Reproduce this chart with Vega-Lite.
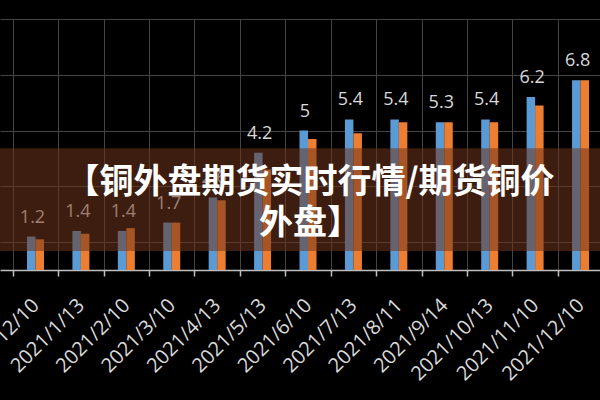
{
  "$schema": "https://vega.github.io/schema/vega-lite/v6.json",
  "width": 600,
  "height": 251,
  "autosize": {"type": "none"},
  "padding": {"left": 0, "right": 0, "top": 19, "bottom": 130},
  "background": "#000000",
  "config": {"view": {"stroke": null}, "font": "Open Sans"},
  "datasets": {
    "bars": [
      {"date": "2020/12/10", "series": "系列1", "value": 1.2},
      {"date": "2020/12/10", "series": "系列2", "value": 1.1},
      {"date": "2021/1/13", "series": "系列1", "value": 1.4},
      {"date": "2021/1/13", "series": "系列2", "value": 1.3},
      {"date": "2021/2/10", "series": "系列1", "value": 1.4},
      {"date": "2021/2/10", "series": "系列2", "value": 1.5},
      {"date": "2021/3/10", "series": "系列1", "value": 1.7},
      {"date": "2021/3/10", "series": "系列2", "value": 1.7},
      {"date": "2021/4/13", "series": "系列1", "value": 2.6},
      {"date": "2021/4/13", "series": "系列2", "value": 2.5},
      {"date": "2021/5/13", "series": "系列1", "value": 4.2},
      {"date": "2021/5/13", "series": "系列2", "value": 3.6},
      {"date": "2021/6/10", "series": "系列1", "value": 5},
      {"date": "2021/6/10", "series": "系列2", "value": 4.7},
      {"date": "2021/7/13", "series": "系列1", "value": 5.4},
      {"date": "2021/7/13", "series": "系列2", "value": 4.9},
      {"date": "2021/8/11", "series": "系列1", "value": 5.4},
      {"date": "2021/8/11", "series": "系列2", "value": 5.3},
      {"date": "2021/9/14", "series": "系列1", "value": 5.3},
      {"date": "2021/9/14", "series": "系列2", "value": 5.3},
      {"date": "2021/10/13", "series": "系列1", "value": 5.4},
      {"date": "2021/10/13", "series": "系列2", "value": 5.3},
      {"date": "2021/11/10", "series": "系列1", "value": 6.2},
      {"date": "2021/11/10", "series": "系列2", "value": 5.9},
      {"date": "2021/12/10", "series": "系列1", "value": 6.8},
      {"date": "2021/12/10", "series": "系列2", "value": 6.8}
    ],
    "banner": [
      {"title": ["【铜外盘期货实时行情/期货铜价", "外盘】"]}
    ]
  },
  "layer": [
    {
      "data": {"name": "bars"},
      "mark": {"type": "bar"},
      "encoding": {
        "x": {
          "field": "date",
          "type": "nominal",
          "sort": null,
          "scale": {"paddingInner": 0.626, "paddingOuter": 0.418, "align": 0.711},
          "axis": {
            "title": null,
            "bandPosition": 0,
            "tickOffset": -14.2,
            "labelOffset": 14.2,
            "grid": true,
            "gridColor": "#444444",
            "gridWidth": 1,
            "domain": true,
            "domainColor": "#bfbfbf",
            "domainWidth": 1.5,
            "ticks": true,
            "tickColor": "#bfbfbf",
            "tickSize": 6,
            "tickWidth": 1.5,
            "labelAngle": -45,
            "labelAlign": "right",
            "labelBaseline": "middle",
            "labelFont": "Open Sans",
            "labelFontSize": 20,
            "labelColor": "#d9d9d9",
            "labelPadding": 26,
            "labelOverlap": false,
            "labelLimit": 300
          }
        },
        "xOffset": {"field": "series", "type": "nominal"},
        "y": {
          "field": "value",
          "type": "quantitative",
          "scale": {"domain": [0, 9], "nice": false},
          "axis": {
            "title": null,
            "labels": false,
            "ticks": false,
            "domain": false,
            "grid": true,
            "gridColor": "#444444",
            "gridWidth": 1,
            "values": [1, 2, 3, 4, 5, 6, 7, 8, 9]
          }
        },
        "color": {
          "field": "series",
          "type": "nominal",
          "scale": {"domain": ["系列1", "系列2"], "range": ["#5b9bd5", "#ed7d31"]},
          "legend": null
        }
      }
    },
    {
      "data": {"name": "bars"},
      "transform": [{"filter": "datum.series === '系列1'"}],
      "mark": {
        "type": "text",
        "font": "Open Sans",
        "fontSize": 18,
        "color": "#d9d9d9",
        "baseline": "alphabetic",
        "align": "center",
        "dy": -14,
        "dx": -3
      },
      "encoding": {
        "x": {"field": "date", "type": "nominal", "sort": null},
        "y": {"field": "value", "type": "quantitative"},
        "text": {"field": "value", "type": "quantitative"}
      }
    },
    {
      "data": {"name": "banner"},
      "mark": {"type": "rect", "color": "#6f351d", "opacity": 0.55},
      "encoding": {
        "y": {"datum": 4.37, "type": "quantitative"},
        "y2": {"datum": 0.68}
      }
    },
    {
      "data": {"name": "banner"},
      "mark": {
        "type": "text",
        "font": "Noto Sans CJK SC",
        "fontSize": 34,
        "fontWeight": "bold",
        "color": "#ffffff",
        "align": "center",
        "baseline": "middle",
        "lineHeight": 41,
        "dx": 10
      },
      "encoding": {
        "y": {"datum": 3.12, "type": "quantitative"},
        "text": {"field": "title"}
      }
    }
  ]
}
